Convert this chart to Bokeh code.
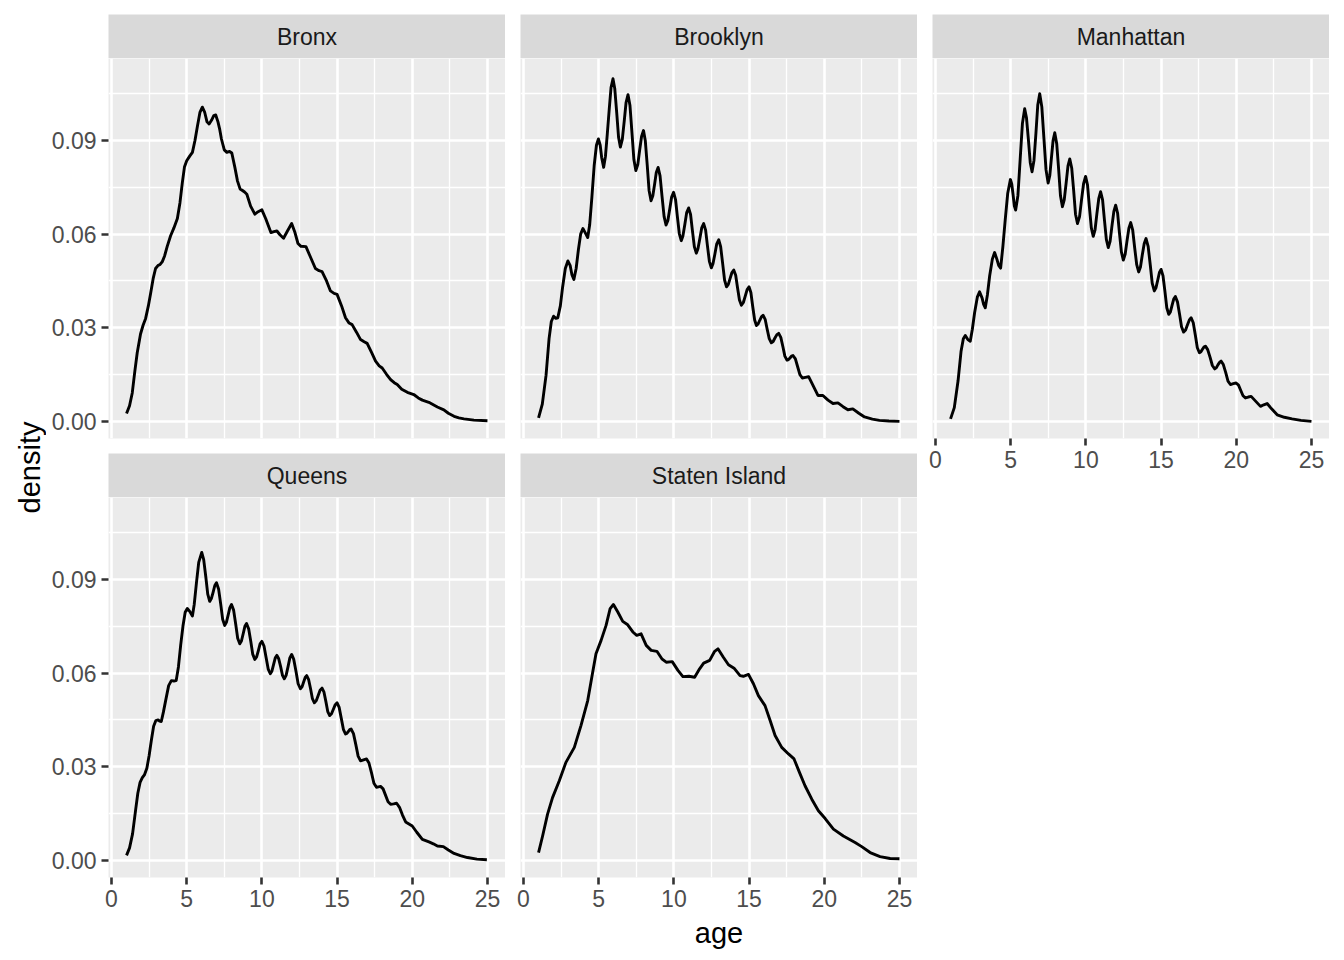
import math
from bokeh.plotting import figure
from bokeh.layouts import row, column
from bokeh.models import FixedTicker, LinearAxis, PrintfTickFormatter, Range1d, Grid
from bokeh.core.properties import value
from bokeh.embed import file_html
from bokeh.resources import INLINE

FONT = "Liberation Sans"

# ---------------- data (age, density) ----------------
boroughs = ["Bronx", "Brooklyn", "Manhattan", "Queens", "Staten Island"]

bronx = [(1.0,0.0025),(1.2,0.0050),(1.38,0.0091),(1.55,0.0160),(1.71,0.0220),(1.93,0.0280),(2.1,0.0308),(2.27,0.0330),
         (2.45,0.0370),(2.6,0.0410),(2.78,0.0460),(2.93,0.0490),(3.1,0.0500),(3.22,0.0502),(3.38,0.0512),(3.53,0.0530),
         (3.7,0.0560),(3.93,0.0595),(4.15,0.0620),(4.38,0.0650),(4.55,0.0700),(4.71,0.0765),(4.85,0.0815),(5.0,0.0835),
         (5.2,0.0850),(5.38,0.0862),(5.55,0.0900),(5.71,0.0945),(5.88,0.0990),(6.04,0.1007),(6.2,0.0990),(6.35,0.0960),
         (6.49,0.0953),(6.65,0.0965),(6.8,0.0980),(6.93,0.0982),(7.08,0.0960),(7.2,0.0935),(7.31,0.0905),(7.5,0.0870),
         (7.67,0.0862),(7.85,0.0865),(8.0,0.0860),(8.2,0.0815),(8.38,0.0770),(8.55,0.0745),(8.71,0.0740),(8.85,0.0735),
         (9.0,0.0728),(9.25,0.0690),(9.53,0.0664),(9.75,0.0672),(10.0,0.0678),(10.25,0.0650),(10.6,0.0605),(10.8,0.0608),
         (11.0,0.0610),(11.2,0.0598),(11.44,0.0587),(11.7,0.0610),(11.98,0.0634),(12.2,0.0605),(12.4,0.0570),(12.6,0.0561),
         (12.93,0.0560),(13.2,0.0530),(13.56,0.0490),(13.8,0.0483),(14.0,0.0480),(14.3,0.0450),(14.56,0.0418),(14.8,0.0410),
         (15.0,0.0407),(15.3,0.0370),(15.56,0.0332),(15.8,0.0315),(16.0,0.0310),(16.3,0.0285),(16.56,0.0262),(16.8,0.0255),
         (17.0,0.0250),(17.3,0.0220),(17.56,0.0193),(17.8,0.0178),(18.0,0.0171),(18.3,0.0150),(18.56,0.0134),(18.8,0.0124),
         (19.0,0.0118),(19.3,0.0103),(19.67,0.0093),(20.1,0.0086),(20.4,0.0075),(20.67,0.0068),(21.1,0.0061),(21.4,0.0053),
         (21.67,0.0046),(22.1,0.0037),(22.4,0.0026),(22.78,0.0016),(23.1,0.0011),(23.44,0.0008),(24.1,0.0004),(25.0,0.0002)]

brooklyn = [(1.0,0.0011),(1.25,0.0055),(1.5,0.0148),(1.7,0.0265),(1.85,0.0320),(2.0,0.0337),(2.15,0.0330),(2.28,0.0332),
            (2.45,0.0370),(2.6,0.0430),(2.78,0.0490),(2.95,0.0514),(3.1,0.0500),(3.22,0.0470),(3.35,0.0455),(3.5,0.0490),
            (3.65,0.0550),(3.8,0.0600),(3.95,0.0618),(4.1,0.0605),(4.27,0.0589),(4.4,0.0630),(4.55,0.0720),(4.7,0.0820),
            (4.85,0.0885),(4.98,0.0905),(5.1,0.0885),(5.2,0.0845),(5.33,0.0814),(5.45,0.0850),(5.57,0.0920),(5.7,0.1000),
            (5.82,0.1070),(5.95,0.1098),(6.07,0.1066),(6.2,0.0988),(6.32,0.0911),(6.44,0.0879),(6.57,0.0904),(6.7,0.0963),
            (6.82,0.1022),(6.95,0.1047),(7.08,0.1012),(7.21,0.0926),(7.34,0.0839),(7.47,0.0804),(7.6,0.0823),(7.72,0.0868),
            (7.85,0.0913),(7.98,0.0932),(8.1,0.0899),(8.23,0.0820),(8.35,0.0740),(8.48,0.0707),(8.6,0.0723),(8.72,0.0761),
            (8.83,0.0798),(8.95,0.0814),(9.08,0.0787),(9.21,0.0722),(9.35,0.0656),(9.48,0.0629),(9.6,0.0644),(9.73,0.0682),
            (9.85,0.0719),(9.98,0.0734),(10.11,0.0711),(10.23,0.0657),(10.36,0.0602),(10.49,0.0579),(10.6,0.0594),(10.73,0.0632),
            (10.85,0.0669),(10.98,0.0684),(11.11,0.0663),(11.23,0.0612),(11.36,0.0560),(11.49,0.0539),(11.6,0.0553),(11.73,0.0587),
            (11.85,0.0620),(11.98,0.0634),(12.11,0.0613),(12.23,0.0563),(12.36,0.0513),(12.49,0.0492),(12.6,0.0505),(12.73,0.0537),
            (12.85,0.0569),(12.98,0.0582),(13.11,0.0560),(13.24,0.0507),(13.37,0.0453),(13.5,0.0431),(13.62,0.0439),(13.74,0.0458),
            (13.86,0.0477),(13.98,0.0485),(14.11,0.0468),(14.23,0.0429),(14.36,0.0389),(14.49,0.0372),(14.62,0.0381),(14.75,0.0402),
            (14.87,0.0422),(15.0,0.0431),(15.12,0.0413),(15.24,0.0369),(15.37,0.0325),(15.49,0.0307),(15.6,0.0312),(15.71,0.0324),
            (15.82,0.0335),(15.93,0.0340),(16.07,0.0327),(16.2,0.0296),(16.34,0.0265),(16.48,0.0252),(16.6,0.0256),(16.72,0.0267),
            (16.85,0.0278),(16.97,0.0282),(17.11,0.0269),(17.25,0.0239),(17.38,0.0209),(17.52,0.0196),(17.62,0.0198),(17.72,0.0203),
            (17.82,0.0209),(17.92,0.0211),(18.08,0.0200),(18.23,0.0175),(18.38,0.0150),(18.54,0.0139),(18.75,0.0141),(18.96,0.0143),
            (19.25,0.0115),(19.58,0.0083),(19.91,0.0083),(20.25,0.0068),(20.58,0.0057),(20.91,0.0059),(21.25,0.0047),(21.57,0.0037),
            (21.9,0.0040),(22.3,0.0026),(22.68,0.0014),(23.2,0.0007),(23.67,0.0003),(24.3,0.0001),(25.0,0.0)]

manhattan = [(1.0,0.0008),(1.25,0.0044),(1.5,0.0130),(1.7,0.0225),(1.85,0.0265),(1.98,0.0275),(2.15,0.0262),(2.31,0.0257),
             (2.45,0.0295),(2.6,0.0348),(2.78,0.0398),(2.93,0.0415),(3.1,0.0395),(3.2,0.0375),(3.31,0.0364),(3.45,0.0405),
             (3.6,0.0466),(3.78,0.0520),(3.93,0.0541),(4.08,0.0520),(4.2,0.0500),(4.33,0.0491),(4.48,0.0560),(4.64,0.0648),
             (4.8,0.0730),(4.98,0.0775),(5.07,0.0761),(5.16,0.0726),(5.24,0.0691),(5.33,0.0677),(5.48,0.0724),(5.63,0.0840),
             (5.78,0.0955),(5.93,0.1002),(6.05,0.0973),(6.18,0.0901),(6.3,0.0829),(6.42,0.0800),(6.55,0.0837),(6.68,0.0925),
             (6.8,0.1014),(6.93,0.1050),(7.07,0.1008),(7.21,0.0907),(7.35,0.0806),(7.49,0.0764),(7.6,0.0788),(7.71,0.0845),
             (7.82,0.0901),(7.93,0.0925),(8.06,0.0890),(8.19,0.0807),(8.31,0.0723),(8.44,0.0688),(8.56,0.0710),(8.69,0.0765),
             (8.81,0.0819),(8.93,0.0841),(9.06,0.0811),(9.19,0.0738),(9.31,0.0664),(9.44,0.0634),(9.58,0.0656),(9.71,0.0710),
             (9.85,0.0763),(9.98,0.0785),(10.11,0.0757),(10.23,0.0689),(10.36,0.0621),(10.49,0.0593),(10.61,0.0614),(10.73,0.0665),
             (10.86,0.0715),(10.98,0.0736),(11.11,0.0710),(11.23,0.0647),(11.36,0.0583),(11.49,0.0557),(11.61,0.0577),(11.73,0.0625),
             (11.86,0.0673),(11.98,0.0693),(12.11,0.0667),(12.23,0.0605),(12.36,0.0543),(12.49,0.0517),(12.61,0.0535),(12.73,0.0577),
             (12.86,0.0619),(12.98,0.0637),(13.11,0.0614),(13.24,0.0558),(13.38,0.0502),(13.51,0.0479),(13.63,0.0495),(13.75,0.0533),
             (13.88,0.0570),(14.0,0.0586),(14.14,0.0561),(14.28,0.0502),(14.41,0.0443),(14.55,0.0418),(14.66,0.0428),(14.78,0.0453),
             (14.89,0.0477),(15.0,0.0487),(15.13,0.0466),(15.26,0.0415),(15.38,0.0364),(15.51,0.0343),(15.62,0.0351),(15.73,0.0372),
             (15.84,0.0392),(15.95,0.0400),(16.09,0.0383),(16.23,0.0343),(16.36,0.0303),(16.5,0.0286),(16.63,0.0293),(16.75,0.0309),
             (16.88,0.0325),(17.0,0.0332),(17.14,0.0316),(17.28,0.0276),(17.41,0.0236),(17.55,0.0220),(17.65,0.0223),(17.75,0.0231),
             (17.85,0.0238),(17.95,0.0241),(18.1,0.0230),(18.26,0.0205),(18.41,0.0179),(18.57,0.0168),(18.68,0.0172),(18.78,0.0181),
             (18.89,0.0189),(18.99,0.0193),(19.14,0.0182),(19.3,0.0156),(19.45,0.0129),(19.61,0.0118),(19.8,0.0121),(19.99,0.0123),
             (20.15,0.0116),(20.3,0.0099),(20.45,0.0082),(20.61,0.0075),(20.8,0.0078),(20.99,0.0080),(21.3,0.0064),(21.61,0.0048),
             (21.83,0.0053),(22.05,0.0057),(22.35,0.0040),(22.72,0.0021),(23.2,0.0013),(23.71,0.0008),(24.3,0.0003),(25.0,0.0)]

queens = [(1.0,0.0016),(1.2,0.0040),(1.4,0.0085),(1.6,0.0160),(1.75,0.0215),(1.9,0.0250),(2.05,0.0265),(2.2,0.0275),
          (2.35,0.0295),(2.5,0.0335),(2.65,0.0385),(2.8,0.0430),(2.95,0.0448),(3.1,0.0450),(3.2,0.0446),(3.31,0.0445),
          (3.45,0.0475),(3.6,0.0512),(3.8,0.0560),(3.98,0.0576),(4.15,0.0575),(4.3,0.0576),(4.45,0.0620),(4.6,0.0690),
          (4.75,0.0750),(4.9,0.0795),(5.04,0.0807),(5.2,0.0798),(5.38,0.0783),(5.5,0.0820),(5.65,0.0890),(5.8,0.0955),
          (6.0,0.0987),(6.13,0.0964),(6.27,0.0909),(6.4,0.0853),(6.53,0.0830),(6.64,0.0839),(6.76,0.0860),(6.87,0.0881),
          (6.98,0.0890),(7.12,0.0870),(7.26,0.0822),(7.39,0.0773),(7.53,0.0753),(7.64,0.0763),(7.76,0.0787),(7.87,0.0810),
          (7.98,0.0820),(8.12,0.0802),(8.26,0.0757),(8.39,0.0712),(8.53,0.0694),(8.64,0.0703),(8.76,0.0727),(8.87,0.0750),
          (8.98,0.0759),(9.12,0.0742),(9.26,0.0702),(9.39,0.0661),(9.53,0.0644),(9.65,0.0652),(9.77,0.0673),(9.88,0.0694),
          (10.0,0.0702),(10.14,0.0687),(10.28,0.0650),(10.42,0.0613),(10.56,0.0598),(10.67,0.0607),(10.78,0.0628),(10.89,0.0649),
          (11.0,0.0657),(11.12,0.0646),(11.25,0.0620),(11.37,0.0593),(11.49,0.0582),(11.61,0.0593),(11.74,0.0621),(11.86,0.0649),
          (11.98,0.0660),(12.12,0.0644),(12.27,0.0605),(12.41,0.0566),(12.56,0.0550),(12.67,0.0556),(12.77,0.0571),(12.88,0.0586),
          (12.98,0.0592),(13.11,0.0579),(13.24,0.0549),(13.36,0.0518),(13.49,0.0505),(13.62,0.0512),(13.75,0.0529),(13.87,0.0545),
          (14.0,0.0552),(14.13,0.0539),(14.26,0.0508),(14.38,0.0477),(14.51,0.0464),(14.63,0.0470),(14.76,0.0485),(14.88,0.0499),
          (15.0,0.0505),(15.14,0.0490),(15.28,0.0455),(15.42,0.0420),(15.56,0.0405),(15.65,0.0407),(15.75,0.0413),(15.84,0.0419),
          (15.93,0.0421),(16.09,0.0406),(16.25,0.0370),(16.4,0.0334),(16.56,0.0319),(16.76,0.0322),(16.96,0.0325),(17.12,0.0312),
          (17.29,0.0280),(17.45,0.0247),(17.62,0.0234),(17.89,0.0237),(18.06,0.0229),(18.22,0.0209),(18.39,0.0188),(18.56,0.0180),
          (18.76,0.0181),(18.96,0.0183),(19.15,0.0170),(19.35,0.0145),(19.56,0.0123),(20.0,0.0110),(20.3,0.0090),(20.67,0.0067),
          (21.11,0.0059),(21.4,0.0053),(21.67,0.0046),(22.07,0.0044),(22.4,0.0033),(22.78,0.0022),(23.2,0.0015),(23.67,0.0009),
          (24.3,0.0004),(24.96,0.0002)]

staten_island = [(1.0,0.0025),(1.27,0.0078),(1.6,0.0148),(1.93,0.0201),(2.38,0.0255),(2.82,0.0314),(3.38,0.0362),(3.82,0.0432),
                 (4.27,0.0512),(4.6,0.0603),(4.82,0.0662),(5.16,0.0705),(5.49,0.0753),(5.76,0.0807),(5.98,0.0820),(6.27,0.0796),
                 (6.6,0.0766),(6.93,0.0755),(7.27,0.0732),(7.53,0.0721),(7.82,0.0726),(8.16,0.0689),(8.49,0.0673),(8.87,0.0670),
                 (9.2,0.0646),(9.49,0.0635),(9.89,0.0637),(10.27,0.0609),(10.6,0.0589),(11.0,0.0590),(11.38,0.0587),(11.71,0.0614),
                 (11.98,0.0632),(12.38,0.0641),(12.71,0.0670),(12.93,0.0678),(13.29,0.0651),(13.63,0.0627),(14.0,0.0616),(14.4,0.0592),
                 (14.62,0.0590),(14.96,0.0596),(15.29,0.0566),(15.62,0.0528),(16.06,0.0496),(16.4,0.0448),(16.73,0.0400),(17.17,0.0362),
                 (17.62,0.0341),(17.99,0.0325),(18.35,0.0282),(18.72,0.0239),(19.17,0.0196),(19.61,0.0159),(20.06,0.0134),(20.61,0.0100),
                 (21.27,0.0078),(22.05,0.0057),(22.49,0.0044),(23.05,0.0025),(23.71,0.0012),(24.38,0.0006),(25.0,0.0005)]

x_ticks = [0, 5, 10, 15, 20, 25]
x_minor = [2.5, 7.5, 12.5, 17.5, 22.5]
y_ticks = [0.0, 0.03, 0.06, 0.09]
y_minor = [0.015, 0.045, 0.075, 0.105]
x_title = "age"
y_title = "density"

# ---------------- styling helpers ----------------
PANEL_H = 380
STRIP_H = 44
TOP_PAD = 14


def style_axis(ax):
    ax.axis_line_color = None
    ax.major_tick_line_color = "#333333"
    ax.major_tick_line_width = 2.6
    ax.major_tick_out = 7
    ax.major_tick_in = 0
    ax.minor_tick_line_color = None
    ax.major_label_text_font = FONT
    ax.major_label_text_font_size = "23px"
    ax.major_label_text_color = "#4D4D4D"
    ax.major_label_standoff = 5


def panel(pairs, width, height, left, bottom, show_x, show_y):
    p = figure(width=width, height=height,
               x_range=Range1d(-0.2, 26.2), y_range=Range1d(-0.0055, 0.1163),
               x_axis_type=None, y_axis_type=None,
               toolbar_location=None, output_backend="svg",
               min_border_left=left, min_border_right=0,
               min_border_top=0, min_border_bottom=bottom)
    p.background_fill_color = "#EBEBEB"
    p.border_fill_color = "white"
    p.outline_line_color = None
    for dim, major, minor in ((0, x_ticks, x_minor), (1, y_ticks, y_minor)):
        g = Grid(dimension=dim, ticker=FixedTicker(ticks=major, minor_ticks=minor))
        g.grid_line_color = "white"
        g.grid_line_width = 2.6
        g.minor_grid_line_color = "white"
        g.minor_grid_line_width = 1.3
        p.add_layout(g, "center")
    if show_x:
        ax = LinearAxis(ticker=FixedTicker(ticks=x_ticks))
        style_axis(ax)
        p.add_layout(ax, "below")
    if show_y:
        ay = LinearAxis(ticker=FixedTicker(ticks=y_ticks), formatter=PrintfTickFormatter(format="%.2f"))
        style_axis(ay)
        p.add_layout(ay, "left")
    xs = [a for a, _ in pairs]
    ys = [d for _, d in pairs]
    p.line(xs, ys, line_color="black", line_width=2.9, line_join="round")
    return p


def strip(title, width, left, top):
    s = figure(width=width, height=STRIP_H + top, x_range=Range1d(0, 1), y_range=Range1d(0, 1),
               x_axis_type=None, y_axis_type=None, toolbar_location=None, output_backend="svg",
               min_border_left=left, min_border_right=0, min_border_top=top, min_border_bottom=0)
    s.background_fill_color = "#D9D9D9"
    s.border_fill_color = "white"
    s.outline_line_color = None
    s.grid.visible = False
    s.text(x=[0.5], y=[0.5], text=[title], text_align="center", text_baseline="middle",
           text_font=value(FONT), text_font_size="23px", text_color="#1A1A1A")
    return s


LEFT_W = 46
W1, W2 = 459, 412
L1, L2 = 62, 15

col1 = column(strip(boroughs[0], W1, L1, TOP_PAD),
              panel(bronx, W1, PANEL_H + 15, L1, 15, False, True),
              strip(boroughs[3], W1, L1, 0),
              panel(queens, W1, PANEL_H + 40, L1, 40, True, True))
col2 = column(strip(boroughs[1], W2, L2, TOP_PAD),
              panel(brooklyn, W2, PANEL_H + 15, L2, 15, False, False),
              strip(boroughs[4], W2, L2, 0),
              panel(staten_island, W2, PANEL_H + 40, L2, 40, True, False))
col3 = column(strip(boroughs[2], W2, L2, TOP_PAD),
              panel(manhattan, W2, PANEL_H + 40, L2, 40, True, False))
grid_row = row(col1, col2, col3)

AGE_H = 35
age_fig = figure(width=W1 + 2 * W2, height=AGE_H, x_range=Range1d(0, 1), y_range=Range1d(0, 1),
                 x_axis_type=None, y_axis_type=None, toolbar_location=None, output_backend="svg",
                 min_border=0, outline_line_color=None)
age_fig.grid.visible = False
age_fig.text(x=[(718.5 - LEFT_W) / (W1 + 2 * W2)], y=[1 - 15 / AGE_H], text=[x_title],
             text_align="center", text_baseline="middle",
             text_font=value(FONT), text_font_size="29px", text_color="black")

TOTAL_H = TOP_PAD + STRIP_H + PANEL_H + 15 + STRIP_H + PANEL_H + 40 + AGE_H
left_fig = figure(width=LEFT_W, height=TOTAL_H, x_range=Range1d(0, 1), y_range=Range1d(0, 1),
                  x_axis_type=None, y_axis_type=None, toolbar_location=None, output_backend="svg",
                  min_border=0, outline_line_color=None)
left_fig.grid.visible = False
left_fig.text(x=[29 / LEFT_W], y=[1 - 467 / TOTAL_H], text=[y_title], angle=math.pi / 2,
              text_align="center", text_baseline="middle",
              text_font=value(FONT), text_font_size="29px", text_color="black")

layout = row(left_fig, column(grid_row, age_fig))

open("out.html", "w").write(file_html(layout, INLINE))
